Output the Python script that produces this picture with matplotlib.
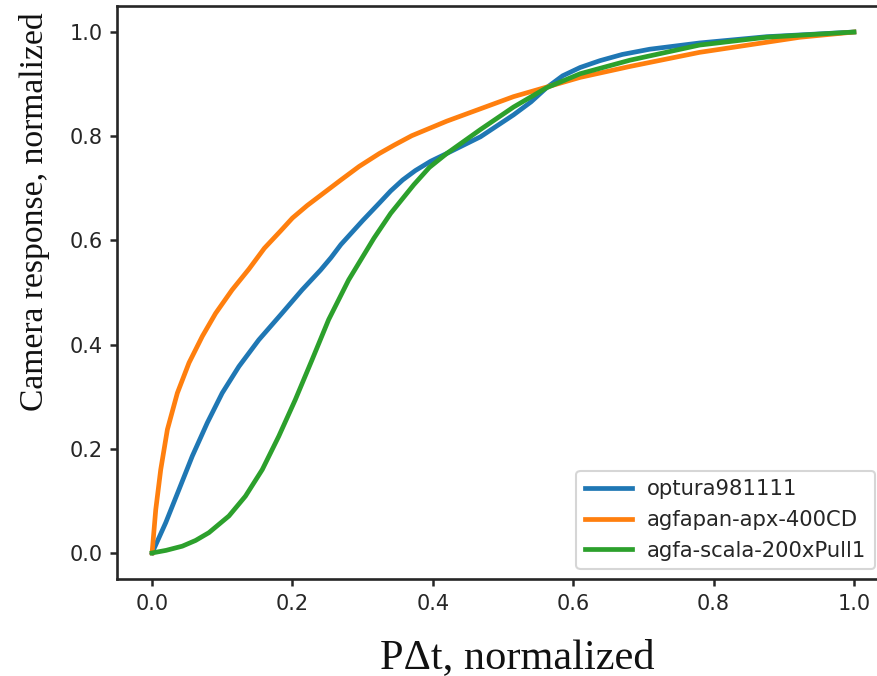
import matplotlib
matplotlib.use("Agg")
import matplotlib.pyplot as plt

# ---- data ----
blue_x = [0.0, 0.0194, 0.0384, 0.0573, 0.0787, 0.0999, 0.1237, 0.152, 0.185,
          0.2137, 0.240, 0.255, 0.269, 0.300, 0.324, 0.340, 0.357, 0.375, 0.397,
          0.420, 0.468, 0.515, 0.540, 0.562, 0.585, 0.610, 0.638, 0.670, 0.709,
          0.780, 0.875, 1.0]
blue_y = [0.0, 0.058, 0.122, 0.186, 0.250, 0.307, 0.358, 0.409, 0.460,
          0.505, 0.543, 0.567, 0.592, 0.638, 0.672, 0.695, 0.716, 0.734, 0.752,
          0.767, 0.799, 0.841, 0.866, 0.893, 0.916, 0.932, 0.945, 0.957, 0.967,
          0.979, 0.991, 1.0]

orange_x = [0.0, 0.0052, 0.0123, 0.0218, 0.036, 0.0526, 0.0716, 0.0905, 0.114,
            0.138, 0.160, 0.183, 0.200, 0.221, 0.269, 0.295, 0.324, 0.345, 0.370,
            0.420, 0.515, 0.610, 0.681, 0.780, 0.923, 1.0]
orange_y = [0.0, 0.083, 0.160, 0.237, 0.307, 0.365, 0.416, 0.460, 0.505,
            0.545, 0.585, 0.618, 0.643, 0.667, 0.716, 0.742, 0.767, 0.783, 0.801,
            0.829, 0.876, 0.913, 0.934, 0.961, 0.990, 1.0]

green_x = [0.0, 0.020, 0.043, 0.062, 0.081, 0.1095, 0.133, 0.157, 0.1805, 0.204,
           0.228, 0.2516, 0.280, 0.316, 0.340, 0.373, 0.395, 0.420, 0.468, 0.515,
           0.562, 0.610, 0.681, 0.780, 0.875, 1.0]
green_y = [0.0, 0.005, 0.013, 0.024, 0.039, 0.071, 0.109, 0.160, 0.224, 0.294,
           0.371, 0.448, 0.524, 0.604, 0.652, 0.707, 0.740, 0.767, 0.813, 0.856,
           0.893, 0.920, 0.946, 0.975, 0.990, 1.0]

labels = ["optura981111", "agfapan-apx-400CD", "agfa-scala-200xPull1"]
ticks = [0.0, 0.2, 0.4, 0.6, 0.8, 1.0]
tick_labels = ["0.0", "0.2", "0.4", "0.6", "0.8", "1.0"]

dark = "#262626"

fig = plt.figure(figsize=(8.77, 6.76), dpi=100)
W, H = 877, 676
ax = fig.add_axes([117 / W, (H - 579) / H, (889 - 117) / W, (579 - 6) / H])

lw = 3.4
ax.plot(blue_x, blue_y, color="#1f77b4", lw=lw, label=labels[0])
ax.plot(orange_x, orange_y, color="#ff7f0e", lw=lw, label=labels[1])
ax.plot(green_x, green_y, color="#2ca02c", lw=lw, label=labels[2])

ax.set_xlim(-0.05, 1.05)
ax.set_ylim(-0.05, 1.05)
ax.set_xticks(ticks)
ax.set_xticklabels(tick_labels)
ax.set_yticks(ticks)
ax.set_yticklabels(tick_labels)

for s in ax.spines.values():
    s.set_color(dark)
    s.set_linewidth(1.9)
ax.tick_params(direction="out", length=5, width=1.8, color=dark,
               labelcolor=dark, labelsize=15, pad=5.5)

ax.set_xlabel("P\u0394t, normalized", family="Liberation Serif", fontsize=30.5,
              color="#111111")
ax.xaxis.set_label_coords((517.5 - 117) / 772, -(639 - 579) / 573)
ax.set_ylabel("Camera response, normalized", family="Liberation Serif",
              fontsize=24.2, color="#111111")
ax.yaxis.set_label_coords((50 - 117) / 772, (579 - 212) / 573)

leg = ax.legend(loc="lower right", bbox_to_anchor=((875 - 117) / 772, (579 - 569) / 573),
                borderaxespad=0, fontsize=15.2, handlelength=2.25,
                handletextpad=0.7, labelspacing=0.5, borderpad=0.4,
                frameon=True, fancybox=True)
leg.get_frame().set_edgecolor("#cccccc")
leg.get_frame().set_linewidth(1.5)
for t in leg.get_texts():
    t.set_color(dark)

fig.savefig("out.png", dpi=100)
